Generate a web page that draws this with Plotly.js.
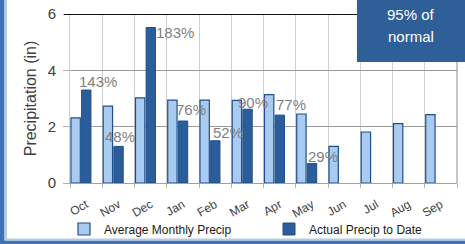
<!DOCTYPE html>
<html>
<head>
<meta charset="utf-8">
<script src="https://cdn.plot.ly/plotly-3.0.1.min.js"></script>
<style>
  html, body { margin: 0; padding: 0; background: #ffffff; }
  #chart { width: 465px; height: 244px; }
</style>
</head>
<body>
<div id="chart"></div>
<script>
// ---- data ----
const months = ["Oct", "Nov", "Dec", "Jan", "Feb", "Mar", "Apr", "May", "Jun", "Jul", "Aug", "Sep"];
const averagePrecip = [2.31, 2.73, 3.02, 2.94, 2.94, 2.93, 3.14, 2.45, 1.30, 1.81, 2.11, 2.43];
const actualPrecip = [3.30, 1.30, 5.52, 2.20, 1.50, 2.62, 2.41, 0.69, null, null, null, null];
const percentOfNormal = [143, 48, 183, 76, 52, 90, 77, 29, null, null, null, null];
const seriesNames = ["Average Monthly Precip", "Actual Precip to Date"];
const summaryText = ["95% of", "normal"];
const yTitle = "Precipitation (in)";

// ---- label placement (pixels, relative to the bar top) ----
const labelDx = [12, 2, 24, 8, 13, 6, 11, 11];
const labelDy = [9, 10, -5, 12, 8, 7, 11, 7];

// ---- geometry ----
const W = 465, H = 244, ML = 70, MR = 8, MT = 14, MB = 61;
const PW = W - ML - MR, PH = H - MT - MB;
const px = v => (v - ML) / PW;
const py = v => (H - MB - v) / PH;

const traces = [
  {
    type: "bar", name: seriesNames[0], x: months, y: averagePrecip,
    width: 0.29, offset: -0.47, legend: "legend",
    marker: { color: "#a9cbef", line: { color: "#1f4f8a", width: 1.2 } },
    hoverinfo: "skip"
  },
  {
    type: "bar", name: seriesNames[1], x: months, y: actualPrecip,
    width: 0.29, offset: -0.14, legend: "legend2",
    marker: { color: "#2b5d9b", line: { color: "#1f4f8a", width: 1 } },
    hoverinfo: "skip"
  }
];

const annotations = [];
percentOfNormal.forEach((p, i) => {
  if (p === null) return;
  annotations.push({
    x: months[i], y: actualPrecip[i], xref: "x", yref: "y",
    text: p + "%", showarrow: false,
    xshift: labelDx[i], yshift: labelDy[i],
    font: { family: "Liberation Sans, Arial, sans-serif", size: 15, color: "#7f7f7f" }
  });
});
annotations.push({
  xref: "paper", yref: "paper", x: px(411), y: py(14), text: summaryText[0],
  showarrow: false, xanchor: "center", yanchor: "middle",
  font: { family: "Liberation Sans, Arial, sans-serif", size: 15, color: "#ffffff" }
});
annotations.push({
  xref: "paper", yref: "paper", x: px(411), y: py(36), text: summaryText[1],
  showarrow: false, xanchor: "center", yanchor: "middle",
  font: { family: "Liberation Sans, Arial, sans-serif", size: 15, color: "#ffffff" }
});

const shapes = [
  // summary box
  { type: "rect", xref: "paper", yref: "paper", x0: px(357), x1: px(466), y0: py(62), y1: py(-1),
    fillcolor: "#2f5f98", line: { width: 0 }, layer: "above" },
  // top border line at y = 6
  { type: "line", xref: "paper", yref: "y", x0: px(64), x1: px(357), y0: 6, y1: 6,
    line: { color: "#111111", width: 2 } },
  // right border of plot
  { type: "line", xref: "paper", yref: "paper", x0: 1, x1: 1, y0: 0, y1: py(62),
    line: { color: "#8c8c8c", width: 1 } },
  // frame: left strip
  { type: "rect", xref: "paper", yref: "paper", x0: px(-1), x1: px(4.5), y0: py(245), y1: py(-1),
    fillcolor: "#3f72b5", line: { width: 0 } },
  { type: "rect", xref: "paper", yref: "paper", x0: px(4.5), x1: px(7), y0: py(245), y1: py(-1),
    fillcolor: "#b5cbe6", line: { width: 0 } },
  // frame: bottom strip
  { type: "rect", xref: "paper", yref: "paper", x0: px(-1), x1: px(466), y0: py(245), y1: py(240.5),
    fillcolor: "#3f72b5", line: { width: 0 } },
  { type: "rect", xref: "paper", yref: "paper", x0: px(4.5), x1: px(466), y0: py(240.5), y1: py(238.5),
    fillcolor: "#b5cbe6", line: { width: 0 } }
];

const legendCommon = {
  orientation: "h", xanchor: "left", y: py(229), yanchor: "middle",
  font: { size: 12, color: "#1a1a1a" }, bgcolor: "rgba(0,0,0,0)", borderwidth: 0,
  itemwidth: 30
};

const layout = {
  width: W, height: H,
  margin: { l: ML, r: MR, t: MT, b: MB, pad: 0, autoexpand: false },
  paper_bgcolor: "#ffffff", plot_bgcolor: "#ffffff",
  font: { family: "Liberation Sans, Arial, sans-serif", color: "#404040" },
  barmode: "overlay",
  showlegend: true,
  legend: Object.assign({}, legendCommon, { x: px(64) }),
  legend2: Object.assign({}, legendCommon, { x: px(269) }),
  xaxis: {
    type: "category", range: [-0.5, 11.5], tickson: "boundaries",
    ticks: "outside", ticklen: 4, tickcolor: "#b0b0b0",
    showgrid: true, gridcolor: "#cfcfcf", gridwidth: 1,
    showline: true, linecolor: "#a0a0a0", linewidth: 1,
    tickangle: -30, ticklabelstandoff: 9,
    tickfont: { size: 12, color: "#404040" }, fixedrange: true, automargin: false
  },
  yaxis: {
    range: [0, 6], dtick: 2, tick0: 0,
    ticks: "outside", ticklen: 6, tickcolor: "#b0b0b0", ticklabelstandoff: 4,
    showgrid: true, gridcolor: "#9a9a9a", gridwidth: 1, zeroline: false,
    showline: true, linecolor: "#cfcfcf", linewidth: 1,
    tickfont: { size: 15, color: "#404040" },
    title: { text: yTitle, font: { size: 16, color: "#404040" }, standoff: 7 },
    fixedrange: true, automargin: false
  },
  annotations: annotations,
  shapes: shapes
};

Plotly.newPlot("chart", traces, layout, { staticPlot: true, displayModeBar: false });
</script>
</body>
</html>
